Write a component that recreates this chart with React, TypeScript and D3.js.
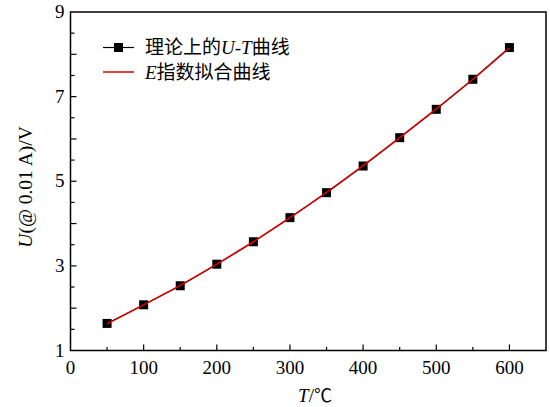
import * as d3 from "d3";

const temps = [50, 100, 150, 200, 250, 300, 350, 400, 450, 500, 550, 600];
const voltages = [1.64, 2.08, 2.53, 3.04, 3.57, 4.14, 4.73, 5.36, 6.03, 6.7, 7.41, 8.16];
const fitValues = [1.63, 2.08, 2.54, 3.04, 3.57, 4.14, 4.74, 5.37, 6.03, 6.71, 7.41, 8.15];
const xTicks = [0, 100, 200, 300, 400, 500, 600];
const xMinor = [50, 150, 250, 350, 450, 550];
const yLabels = [1, 3, 5, 7, 9];
const yMajor = [2, 3, 4, 5, 6, 7, 8];
const yMinor = [1.5, 2.5, 3.5, 4.5, 5.5, 6.5, 7.5, 8.5];

const W = 550;
const H = 407;
const serif = "'Liberation Serif', 'Noto Sans CJK SC', serif";
const cjk = "'Noto Sans CJK SC', 'Liberation Serif', serif";

export default function App() {
  const x = d3.scaleLinear().domain([0, 650]).range([70.5, 546]);
  const y = d3.scaleLinear().domain([1, 9]).range([350.5, 12]);

  const line = d3
    .line<number>()
    .x((_, i) => x(temps[i]))
    .y((d) => y(d));
  const fitLine = d3
    .line<number>()
    .x((_, i) => x(temps[i]))
    .y((d) => y(d))
    .curve(d3.curveCatmullRom);

  const [x0, x1] = x.range();
  const [y0, y1] = y.range();

  return (
    <svg
      width={W}
      height={H}
      style={{ position: "absolute", left: 0, top: 0, background: "#fff" }}
      fontFamily={serif}
    >
      {/* ticks, inward */}
      {xTicks.slice(1).map((t) => (
        <line key={"xt" + t} x1={x(t)} x2={x(t)} y1={y0} y2={y0 - 6} stroke="#000" strokeWidth={1.2} />
      ))}
      {xMinor.map((t) => (
        <line key={"xm" + t} x1={x(t)} x2={x(t)} y1={y0} y2={y0 - 3.5} stroke="#000" strokeWidth={1.2} />
      ))}
      {yMajor.map((t) => (
        <line key={"yt" + t} x1={x0} x2={x0 + 6} y1={y(t)} y2={y(t)} stroke="#000" strokeWidth={1.2} />
      ))}
      {yMinor.map((t) => (
        <line key={"ym" + t} x1={x0} x2={x0 + 4} y1={y(t)} y2={y(t)} stroke="#000" strokeWidth={1.2} />
      ))}

      <rect x={x0} y={y1} width={x1 - x0} height={y0 - y1} fill="none" stroke="#000" strokeWidth={1.5} />

      {xTicks.map((t) => (
        <text key={"xl" + t} x={x(t)} y={374} textAnchor="middle" fontSize={19}>
          {t}
        </text>
      ))}
      {yLabels.map((t) => (
        <text key={"yl" + t} x={x0 - 6} y={y(t) + 6} textAnchor="end" fontSize={19}>
          {t}
        </text>
      ))}

      {/* axis titles */}
      <text x={315} y={402} textAnchor="middle" fontSize={19}>
        <tspan fontStyle="italic">T</tspan>
        <tspan>/</tspan>
        <tspan fontFamily={cjk} fontSize={18}>℃</tspan>
      </text>
      <text transform="translate(32,187) rotate(-90)" textAnchor="middle" fontSize={19.5}>
        <tspan fontStyle="italic">U</tspan>
        <tspan>(@ 0.01 A)/V</tspan>
      </text>

      {/* data */}
      <path d={line(voltages) ?? ""} fill="none" stroke="#000" strokeWidth={1.2} />
      {voltages.map((v, i) => (
        <rect key={"m" + i} x={x(temps[i]) - 4.5} y={y(v) - 4.5} width={9} height={9} fill="#000" />
      ))}
      <path d={fitLine(fitValues) ?? ""} fill="none" stroke="#e00000" strokeWidth={1.5} />

      {/* legend */}
      <g>
        <line x1={103} x2={134} y1={47.5} y2={47.5} stroke="#000" strokeWidth={1.2} />
        <rect x={114} y={43} width={9} height={9} fill="#000" />
        <text x={145} y={54} fontSize={19}>
          <tspan fontFamily={cjk}>理论上的</tspan>
          <tspan fontStyle="italic">U</tspan>
          <tspan>-</tspan>
          <tspan fontStyle="italic">T</tspan>
          <tspan fontFamily={cjk}>曲线</tspan>
        </text>
        <line x1={103} x2={134} y1={72} y2={72} stroke="#e00000" strokeWidth={1.5} />
        <text x={145} y={78.5} fontSize={19}>
          <tspan fontStyle="italic">E</tspan>
          <tspan fontFamily={cjk}>指数拟合曲线</tspan>
        </text>
      </g>
    </svg>
  );
}
